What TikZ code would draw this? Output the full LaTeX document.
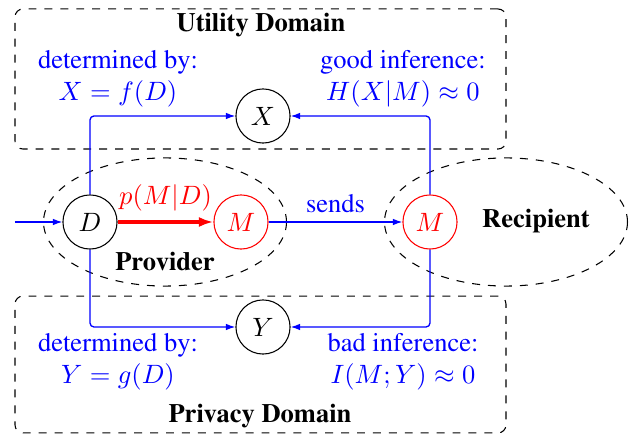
\documentclass[tikz,border=0pt]{standalone}
\usepackage[T1]{fontenc}
\usepackage{times}
\usetikzlibrary{arrows.meta,shapes.geometric}
\begin{document}
\begin{tikzpicture}[x=0.377pt,y=-0.377pt,
  var/.style={circle,draw,minimum size=20.4pt,inner sep=0pt},
  redvar/.style={var,draw=red,text=red},
  region/.style={ellipse,draw,dashed,minimum width=91.6pt,minimum height=48.3pt,inner sep=0pt},
  dombox/.style={draw,dashed,rounded corners=3pt,minimum width=185.1pt,inner sep=0pt},
  conn/.style={blue,line width=0.5pt,rounded corners=1.5pt,-{Latex[length=3.6pt,width=2.5pt]}},
  lbl/.style={text=blue,align=center,inner sep=0pt},
  ttl/.style={font=\bfseries,inner sep=0pt}]
\useasboundingbox (0,0) rectangle (629,435);
% domains
\node[dombox,minimum height=52.8pt] (ubox) at (260.5,79) {};
\node[dombox,minimum height=51.6pt] (pbox) at (260.5,364.5) {};
% regions
\node[region] (prov) at (165,222) {};
\node[region] (recip) at (506,222) {};
% variables
\node[var] (X) at (263,116) {$X$};
\node[var] (Y) at (263,327) {$Y$};
\node[var] (D) at (90,222) {$D$};
\node[redvar] (PM) at (241,222) {$M$};
\node[redvar] (RM) at (430,222) {$M$};
\coordinate (in) at (15,222);
% titles
\node[ttl] (ut) at (261,25) {Utility Domain};
\node[ttl] (ptl) at (260,416) {Privacy Domain};
\node[ttl] (pv) at (165,262) {Provider};
\node[ttl] (rc) at (536,221) {Recipient};
% labels
\node[lbl] (ul) at (118,78.5) {determined by:\\ $X=f(D)$};
\node[lbl] (ur) at (403,78.5) {good inference:\\ $H(X|M)\approx 0$};
\node[lbl] (pl) at (118,362) {determined by:\\ $Y=g(D)$};
\node[lbl] (pr) at (403,362) {bad inference:\\ $I(M;Y)\approx 0$};
% connectors
\draw[conn] (in) -- (D.west);
\draw[conn] (D.north) |- (X.west);
\draw[conn] (D.south) |- (Y.west);
\draw[conn] (RM.north) |- (X.east);
\draw[conn] (RM.south) |- (Y.east);
\draw[conn] (PM) -- (RM) node[midway,above,text=blue] (sd) {sends};
\draw[red,line width=1.3pt,-{Latex[length=5.5pt,width=3.8pt]}] (D) -- (PM) node[midway,above,text=red] (pmd) {$p(M|D)$};
\end{tikzpicture}
\end{document}
